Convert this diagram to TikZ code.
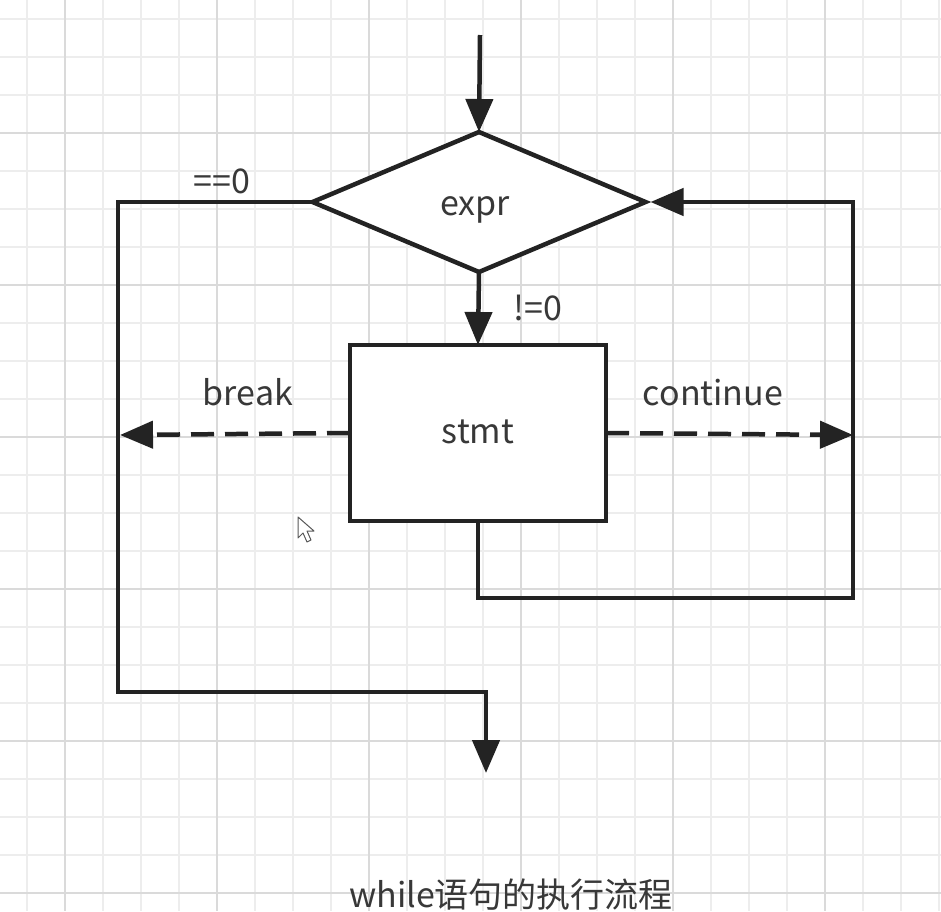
\documentclass[tikz,border=0pt]{standalone}
\usepackage{fontspec}
\setmainfont{Noto Sans CJK SC}
\usetikzlibrary{shapes.geometric,arrows.meta}
\definecolor{ink}{HTML}{232323}
\definecolor{txt}{HTML}{383838}
\definecolor{gridminor}{HTML}{EDEDED}
\definecolor{gridmajor}{HTML}{DADADA}
\begin{document}
\begin{tikzpicture}[x=1pt,y=-1pt,
  line/.style={draw=ink,line width=4.5pt},
  arr/.style={line,-{Triangle[length=33pt,width=27pt]}},
  dsh/.style={arr,dash pattern=on 23pt off 11pt},
  lbl/.style={text=txt,font=\fontsize{34}{40}\selectfont,inner sep=0pt,anchor=base},
  dia/.style={diamond,draw=ink,line width=4.5pt,fill=white,minimum width=333pt,minimum height=140pt,inner sep=0pt,outer sep=0pt},
  box/.style={rectangle,draw=ink,line width=4.5pt,fill=white,minimum width=256pt,minimum height=176pt,inner sep=0pt,outer sep=0pt},
  gmin/.style={draw=gridminor,line width=1.5pt},
  gmaj/.style={draw=gridmajor,line width=2pt}]
\useasboundingbox (0,0) rectangle (941,911);
\fill[white] (0,0) rectangle (941,911);
\foreach \x in {27,65,...,941} \draw[gmin] (\x,0) -- (\x,911);
\foreach \y in {19,57,...,911} \draw[gmin] (0,\y) -- (941,\y);
\foreach \x in {65,217,...,941} \draw[gmaj] (\x,0) -- (\x,911);
\foreach \y in {133,285,...,911} \draw[gmaj] (0,\y) -- (941,\y);

\node[dia] (expr) at (479,202) {};
\node[box] (stmt) at (478,433) {};

\coordinate (top) at (480,35);
\coordinate (ltop) at (118,202);
\coordinate (lbot) at (118,692);
\coordinate (bmid) at (486,692);
\coordinate (exit) at (486,773);
\coordinate (rbl) at (478,598);
\coordinate (rbr) at (853,598);
\coordinate (rtop) at (853,202);
\coordinate (brk) at (120,435);
\coordinate (cont) at (853,435);

\draw[arr] (top) -- (expr.north);
\draw[arr] (expr.south) -- (stmt.north);
\draw[arr] (expr.west) -- (ltop) -- (lbot) -- (bmid) -- (exit);
\draw[arr,shorten >=5pt] (stmt.south) -- (rbl) -- (rbr) -- (rtop) -- (expr.east);
\draw[dsh] (stmt.west) -- (brk);
\draw[dsh] (stmt.east) -- (cont);

\node[lbl] (exprlbl) at (475,215) {expr};
\node[lbl] (stmtlbl) at (478,443) {stmt};
\node[lbl] (eqlbl) at (222,193) {==0};
\node[lbl] (nelbl) at (538,320) {!=0};
\node[lbl] (brklbl) at (248,405) {break};
\node[lbl] (contlbl) at (713,405) {continue};
\node[lbl] (caption) at (511,907) {while语句的执行流程};

\draw[draw=black!65,fill=white,line width=1pt,line join=round] (298,517) -- (298,538) -- (303,533) -- (307,542) -- (311,540) -- (307,531) -- (314,531) -- cycle;
\end{tikzpicture}
\end{document}
